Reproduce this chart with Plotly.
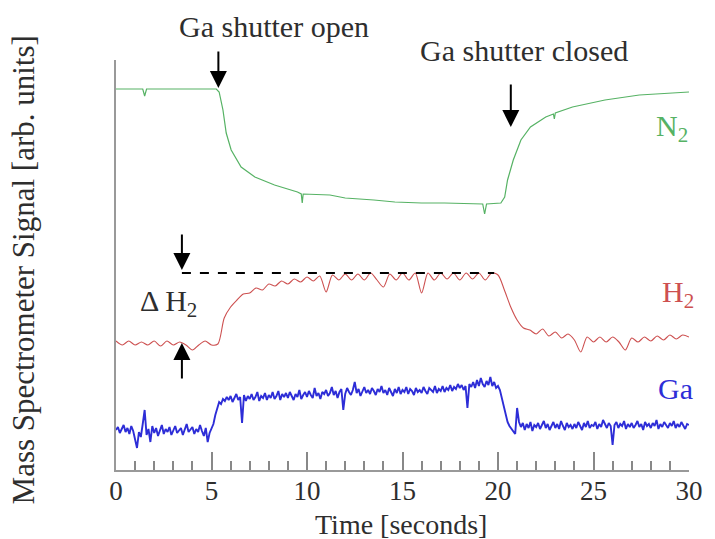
import numpy as np
import plotly.graph_objects as go

# ---------------- data (arbitrary units) ----------------
n2_t = [0, 1.4, 1.5, 1.6, 5.25, 5.4, 5.6, 5.77, 6.03, 6.55, 7.27, 8.3, 9.5, 9.7, 9.75, 9.8,
        11.2, 12, 13.5, 14.6, 16, 17.2, 19.2, 19.3, 19.4, 20.15, 20.35, 20.5, 20.8, 21.2,
        21.7, 22.5, 22.9, 22.95, 23.0, 23.9, 25.6, 27.4, 30]
n2_v = [381, 381, 374, 381, 381, 378, 360, 337, 320, 303, 293, 285, 278, 276, 267, 276,
        275, 272, 270, 268, 267, 267, 266, 256, 266, 267, 273, 290, 310, 330,
        343, 353, 356, 351, 357, 363, 370, 375, 378]

# H2 sampled every 1/3 s from 0 to 30 s
h2_v = [129, 125, 129, 125, 128, 125, 129, 124, 129, 125, 128, 125, 120, 125, 129, 125,
        126, 152, 163, 170, 176, 177, 182, 180, 186, 184, 189, 186, 191, 188,
        193, 189, 194, 178, 195, 190, 196, 190, 196, 190, 197, 190, 183, 196,
        190, 197, 190, 197, 177, 197, 190, 197, 191, 197, 190, 197, 191, 197,
        190, 197, 195, 180, 163, 150, 142, 140, 136, 141, 134, 138, 132, 136,
        130, 118, 133, 128, 133, 128, 133, 128, 120, 132, 128, 133, 129, 134,
        130, 135, 131, 135, 133]

# Ga sampled every 0.1 s from 0 to 30 s
ga_v = [40, 43, 37, 41, 45, 38, 42, 36, 44, 39,
        30, 22, 38, 33, 46, 60, 35, 41, 28, 44,
        37, 42, 34, 40, 45, 36, 41, 38, 43, 35,
        40, 44, 37, 39, 42, 35, 41, 46, 38, 40,
        43, 36, 41, 38, 45, 39, 34, 42, 28, 37,
        41, 46, 55, 62, 68, 66, 71, 69, 73, 70,
        74, 68, 72, 76, 70, 73, 47, 75, 69, 74,
        71, 76, 70, 73, 78, 69, 74, 72, 77, 70,
        75, 72, 78, 71, 74, 79, 70, 76, 73, 77,
        72, 78, 74, 70, 76, 73, 80, 71, 75, 78,
        73, 79, 75, 72, 82, 74, 77, 71, 78, 76,
        80, 74, 77, 83, 75, 79, 72, 78, 81, 60,
        76, 82, 78, 75, 80, 88, 77, 81, 74, 79,
        83, 77, 80, 76, 82, 79, 75, 81, 78, 84,
        77, 80, 75, 82, 78, 74, 81, 77, 83, 76,
        80, 78, 83, 76, 81, 79, 75, 82, 78, 80,
        77, 83, 79, 76, 82, 80, 78, 84, 77, 81,
        79, 84, 78, 82, 80, 85, 79, 83, 81, 86,
        82, 85, 80, 84, 62, 86, 83, 88, 82, 90,
        84, 92, 86, 83, 89, 85, 93, 84, 88, 82,
        84, 80, 72, 62, 55, 48, 44, 41, 38, 36,
        62, 48, 43, 47, 40, 46, 42, 48, 39, 45,
        43, 47, 41, 45, 49, 42, 46, 40, 44, 48,
        42, 46, 41, 49, 44, 40, 47, 43, 45, 41,
        46, 42, 48, 44, 40, 47, 43, 49, 42, 45,
        44, 48, 41, 46, 43, 50, 45, 42, 47, 44,
        25, 45, 48, 42, 46, 44, 49, 41, 46, 43,
        47, 42, 45, 49, 43, 46, 40, 48, 44, 46,
        42, 47, 44, 50, 41, 46, 43, 48, 45, 42,
        47, 44, 49, 42, 46, 43, 48, 45, 41, 46,
        45]

h2_t = np.linspace(0, 30, len(h2_v))
ga_t = np.linspace(0, 30, len(ga_v))

x_ticks = [0, 5, 10, 15, 20, 25, 30]
dh2_level = 197
dh2_t = [3.45, 19.8]

GREEN = "rgb(86,178,100)"
RED = "rgb(205,80,80)"
BLUE = "rgb(45,45,215)"
TXT = "#2e2e2e"
FONT = "Liberation Serif"
FS = 30

fig = go.Figure()
fig.add_trace(go.Scatter(x=n2_t, y=n2_v, mode="lines", line=dict(color=GREEN, width=1.2), showlegend=False))
fig.add_trace(go.Scatter(x=h2_t, y=h2_v, mode="lines", line=dict(color=RED, width=1.1, shape="spline", smoothing=0.8), showlegend=False))
fig.add_trace(go.Scatter(x=ga_t, y=ga_v, mode="lines", line=dict(color=BLUE, width=1.9), showlegend=False))
fig.add_trace(go.Scatter(x=dh2_t, y=[dh2_level, dh2_level], mode="lines",
                         line=dict(color="black", width=2, dash="dash"), showlegend=False))

ann = []
def text(x, y, s, color=TXT, size=FS, **kw):
    ann.append(dict(x=x, y=y, xref="x", yref="y", text=s, showarrow=False,
                    font=dict(family=FONT, size=size, color=color), **kw))
def ptext(x, y, s, size=FS):
    ann.append(dict(x=x, y=y, xref="paper", yref="paper", text=s, showarrow=False,
                    xanchor="center", yanchor="middle",
                    font=dict(family=FONT, size=size, color=TXT)))
def arrow(x, y, ay):
    ann.append(dict(x=x, y=y, xref="x", yref="y", text="", showarrow=True, ax=0, ay=ay,
                    arrowhead=2, arrowsize=1.7, arrowwidth=2, arrowcolor="black"))

ptext(0.2766, 1.0805, "Ga shutter open")
ptext(0.7113, 1.022, "Ga shutter closed")
arrow(5.36, 382, -38)
arrow(20.67, 343, -44)
arrow(3.45, 200, -37)
arrow(3.45, 127, 37)
text(2.75, 167, "\u0394 H<sub>2</sub>")
text(29.1, 342, "N<sub>2</sub>", color=GREEN)
text(29.4, 176, "H<sub>2</sub>", color=RED)
text(29.3, 82, "Ga", color=BLUE)

ann.append(dict(x=-0.1615, y=0.488, xref="paper", yref="paper", text="Mass Spectrometer Signal [arb. units]",
                textangle=-90, showarrow=False, xanchor="center", yanchor="middle",
                font=dict(family=FONT, size=31, color=TXT)))
ptext(0.4966, -0.133, "Time [seconds]", size=28)

fig.update_layout(
    width=715, height=539,
    margin=dict(l=116, r=17, t=60, b=69),
    plot_bgcolor="white", paper_bgcolor="white",
    annotations=ann,
    xaxis=dict(range=[0, 30], tickvals=x_ticks, ticktext=[str(v) for v in x_ticks],
               ticks="inside", ticklen=18, tickwidth=1.5, tickcolor="#888",
               minor=dict(ticks="inside", ticklen=9, dtick=1, tickwidth=1.5, tickcolor="#888"),
               showline=True, linecolor="#999", linewidth=2, showgrid=False, zeroline=False,
               tickfont=dict(family=FONT, size=27, color=TXT), ticklabelstandoff=-4),
    yaxis=dict(range=[0, 410], showticklabels=False, ticks="", showline=True,
               linecolor="#999", linewidth=2, showgrid=False, zeroline=False),
)

fig.write_html("out.html")
